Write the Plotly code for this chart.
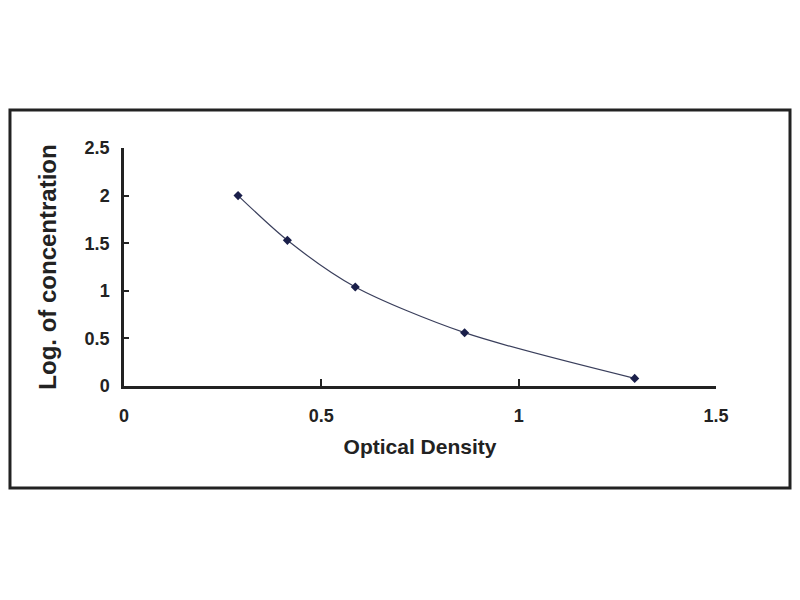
import plotly.graph_objects as go

# standard curve points
optical_density = [0.289, 0.414, 0.586, 0.863, 1.294]
log_concentration = [2.0, 1.53, 1.04, 0.56, 0.08]

x_ticks = [0, 0.5, 1, 1.5]
x_tick_labels = ["0", "0.5", "1", "1.5"]
y_ticks = [0, 0.5, 1, 1.5, 2, 2.5]
y_tick_labels = ["0", "0.5", "1", "1.5", "2", "2.5"]

font_name = "Liberation Sans, Arial, sans-serif"


def main():
    fig = go.Figure()
    fig.add_trace(go.Scatter(
        x=optical_density,
        y=log_concentration,
        mode="lines+markers",
        line=dict(color="#3a3f5c", width=1.2, shape="spline", smoothing=0.8),
        marker=dict(symbol="diamond", size=7, color="#1a1f4a"),
        showlegend=False,
    ))

    tick_font = dict(family=font_name, size=18, color="#222222", weight="bold")

    # page body adds an 8px margin, so the figure is a bit smaller than the window
    fig.update_layout(
        width=784,
        height=584,
        paper_bgcolor="white",
        plot_bgcolor="white",
        margin=dict(l=116, r=76, t=140, b=206),
        xaxis=dict(
            range=[0, 1.5],
            tickvals=x_ticks,
            ticktext=x_tick_labels,
            ticks="inside",
            ticklen=7,
            tickwidth=2,
            tickcolor="#222222",
            ticklabelstandoff=12,
            showline=True,
            linecolor="#222222",
            linewidth=2.5,
            showgrid=False,
            zeroline=False,
            tickfont=tick_font,
            title=dict(text="Optical Density",
                       font=dict(family=font_name, size=21, color="#222222", weight="bold"),
                       standoff=14),
        ),
        yaxis=dict(
            range=[0, 2.5],
            tickvals=y_ticks,
            ticktext=y_tick_labels,
            ticks="inside",
            ticklen=5,
            tickwidth=2,
            tickcolor="#222222",
            ticklabelstandoff=8,
            showline=True,
            linecolor="#222222",
            linewidth=2.5,
            showgrid=False,
            zeroline=False,
            tickfont=tick_font,
            title=dict(text="Log. of concentration",
                       font=dict(family=font_name, size=24, color="#222222", weight="bold"),
                       standoff=22),
        ),
    )

    # outer frame around the whole chart
    fig.add_shape(
        type="rect",
        xref="paper", yref="paper",
        x0=-0.1926, x1=1.125, y0=-0.4286, y1=1.160,
        line=dict(color="#222222", width=3),
        layer="below",
    )

    fig.write_html("out.html")


if __name__ == "__main__":
    main()
